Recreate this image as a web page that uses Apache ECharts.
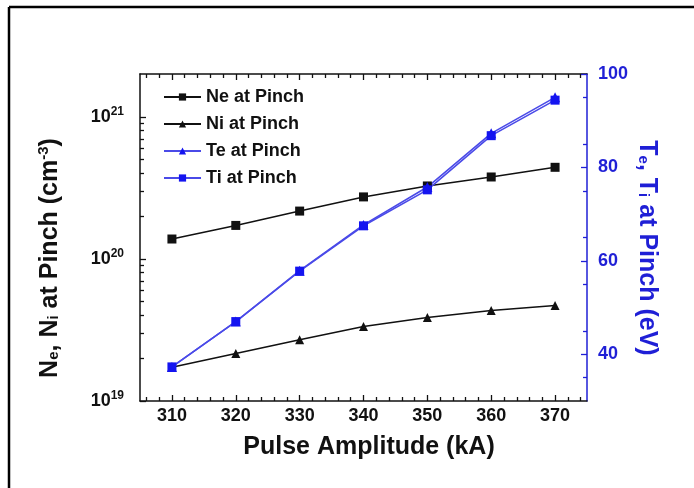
<!DOCTYPE html>
<html><head><meta charset="utf-8">
<script src="https://cdn.jsdelivr.net/npm/echarts@6/dist/echarts.min.js"></script>
<style>html,body{margin:0;padding:0;background:#fff}#c{width:694px;height:488px}</style>
</head><body><div id="c"></div>
<script>
// ---- data ----
const pulseAmplitude = [310, 320, 330, 340, 350, 360, 370];
const neAtPinch = [1.38e20, 1.72e20, 2.17e20, 2.73e20, 3.26e20, 3.77e20, 4.41e20];
const niAtPinch = [1.73e19, 2.16e19, 2.70e19, 3.34e19, 3.87e19, 4.33e19, 4.70e19];
const teAtPinch = [37.3, 47.0, 57.9, 67.7, 75.8, 87.3, 95.0];
const tiAtPinch = [37.3, 47.0, 57.8, 67.5, 75.2, 86.8, 94.4];
// ---- ticks ----
const xTickLabels = [310, 320, 330, 340, 350, 360, 370];
const xMinorTicks = [306, 308, 312, 314, 316, 318, 322, 324, 326, 328, 332, 334, 336, 338, 342, 344, 346, 348, 352, 354, 356, 358, 362, 364, 366, 368, 372, 374];
const leftTickLabels = [1e19, 1e20, 1e21];
const leftMinorTicks = [2e19, 3e19, 4e19, 5e19, 6e19, 7e19, 8e19, 9e19, 2e20, 3e20, 4e20, 5e20, 6e20, 7e20, 8e20, 9e20];
const rightTickLabels = [40, 60, 80, 100];
const rightMinorTicks = [35, 45, 55, 65, 75, 85, 95];
const seriesNames = ['Ne at Pinch', 'Ni at Pinch', 'Te at Pinch', 'Ti at Pinch'];

const FONT = "'Liberation Sans', Arial, sans-serif";
const BLACK = '#111111';
const BLUE = '#1f1fd6';
const BLUE_LINE = '#4a4ae8';

function xAxisDef(pos, major, showLine) {
  return {
    type: 'value', position: pos, min: 305, max: 375, splitLine: {show: false},
    axisLine: {show: showLine, onZero: false, lineStyle: {color: BLACK, width: 1.5}},
    axisTick: {show: true, inside: true, length: major ? 6 : 4, lineStyle: {color: BLACK, width: 1.3},
      customValues: major ? xTickLabels : xMinorTicks},
    axisLabel: (pos === 'bottom' && major) ? {show: true, customValues: xTickLabels, fontFamily: FONT, fontWeight: 'bold', fontSize: 18, color: BLACK, margin: 6} : {show: false}
  };
}

const chart = echarts.init(document.getElementById('c'), null, {renderer: 'canvas'});
chart.setOption({
  backgroundColor: '#ffffff',
  animation: false,
  grid: {left: 140, top: 74, right: 107, bottom: 87, containLabel: false},
  legend: {
    orient: 'vertical', left: 163, top: 88, itemWidth: 37, itemHeight: 9, itemGap: 9, padding: 0,
    data: seriesNames,
    textStyle: {fontFamily: FONT, fontWeight: 'bold', fontSize: 18, color: BLACK, lineHeight: 18, padding: [0, 0, 0, 0]}
  },
  xAxis: [
    xAxisDef('bottom', true, true),
    xAxisDef('bottom', false, false),
    xAxisDef('top', true, true),
    xAxisDef('top', false, false)
  ],
  yAxis: [
    {
      type: 'log', logBase: 10, position: 'left', min: 1e19, max: 2e21, splitLine: {show: false},
      axisLine: {show: true, onZero: false, lineStyle: {color: BLACK, width: 1.5}},
      axisTick: {show: true, inside: true, length: 6, customValues: leftTickLabels, lineStyle: {color: BLACK, width: 1.3}},
      axisLabel: {
        show: true, customValues: leftTickLabels, margin: 16,
        formatter: v => '{a|10}{b|' + Math.round(Math.log10(v)) + '}',
        rich: {
          a: {fontFamily: FONT, fontWeight: 'bold', fontSize: 18, color: BLACK},
          b: {fontFamily: FONT, fontWeight: 'bold', fontSize: 12, color: BLACK, padding: [0, 0, 11, 0]}
        }
      }
    },
    {
      type: 'log', logBase: 10, position: 'left', min: 1e19, max: 2e21, splitLine: {show: false},
      axisLine: {show: false, onZero: false},
      axisTick: {show: true, inside: true, length: 4, customValues: leftMinorTicks, lineStyle: {color: BLACK, width: 1.3}},
      axisLabel: {show: false}
    },
    {
      type: 'value', position: 'right', min: 30, max: 100, splitLine: {show: false},
      axisLine: {show: true, onZero: false, lineStyle: {color: BLUE, width: 1.5}},
      axisTick: {show: true, inside: true, length: 6, customValues: rightTickLabels, lineStyle: {color: BLUE, width: 1.3}},
      axisLabel: {show: true, customValues: rightTickLabels, margin: 11, fontFamily: FONT, fontWeight: 'bold', fontSize: 18, color: BLUE}
    },
    {
      type: 'value', position: 'right', min: 30, max: 100, splitLine: {show: false},
      axisLine: {show: false, onZero: false},
      axisTick: {show: true, inside: true, length: 4, customValues: rightMinorTicks, lineStyle: {color: BLUE, width: 1.3}},
      axisLabel: {show: false}
    }
  ],
  series: [
    {name: seriesNames[0], type: 'line', xAxisIndex: 0, yAxisIndex: 0,
     data: pulseAmplitude.map((x, i) => [x, neAtPinch[i]]),
     symbol: 'rect', symbolSize: 9, lineStyle: {color: BLACK, width: 1.5}, itemStyle: {color: BLACK}},
    {name: seriesNames[1], type: 'line', xAxisIndex: 0, yAxisIndex: 0,
     data: pulseAmplitude.map((x, i) => [x, niAtPinch[i]]),
     symbol: 'triangle', symbolSize: 9, lineStyle: {color: BLACK, width: 1.5}, itemStyle: {color: BLACK}},
    {name: seriesNames[2], type: 'line', xAxisIndex: 0, yAxisIndex: 2,
     data: pulseAmplitude.map((x, i) => [x, teAtPinch[i]]),
     symbol: 'triangle', symbolSize: 10, lineStyle: {color: BLUE_LINE, width: 1.6}, itemStyle: {color: '#1414f0'}},
    {name: seriesNames[3], type: 'line', xAxisIndex: 0, yAxisIndex: 2,
     data: pulseAmplitude.map((x, i) => [x, tiAtPinch[i]]),
     symbol: 'rect', symbolSize: 9, lineStyle: {color: BLUE_LINE, width: 1.6}, itemStyle: {color: '#1414f0'}}
  ],
  graphic: [
    {type: 'line', shape: {x1: 9, y1: 7, x2: 694, y2: 7}, style: {stroke: '#000', lineWidth: 2.5}, silent: true},
    {type: 'line', shape: {x1: 9, y1: 7, x2: 9, y2: 488}, style: {stroke: '#000', lineWidth: 2.5}, silent: true},
    {type: 'text', x: 50, y: 258, rotation: Math.PI / 2, silent: true,
     style: {text: 'N{s|e}, N{s|i} at Pinch (cm{p|-3})', align: 'center', verticalAlign: 'middle',
       font: "bold 25px 'Liberation Sans', Arial, sans-serif", fill: BLACK,
       rich: {
         s: {fontFamily: FONT, fontWeight: 'bold', fontSize: 15, fill: BLACK, padding: [8, 0, 0, 0]},
         p: {fontFamily: FONT, fontWeight: 'bold', fontSize: 15, fill: BLACK, padding: [0, 0, 12, 0]}
       }}},
    {type: 'text', x: 647, y: 248, rotation: -Math.PI / 2, silent: true,
     style: {text: 'T{s|e}, T{s|i} at Pinch (eV)', align: 'center', verticalAlign: 'middle',
       font: "bold 25px 'Liberation Sans', Arial, sans-serif", fill: BLUE,
       rich: {
         s: {fontFamily: FONT, fontWeight: 'bold', fontSize: 15, fill: BLUE, padding: [8, 0, 0, 0]}
       }}},
    {type: 'text', x: 369, y: 447, silent: true,
     style: {text: 'Pulse Amplitude (kA)', align: 'center', verticalAlign: 'middle',
       font: "bold 25px 'Liberation Sans', Arial, sans-serif", fill: BLACK}}
  ]
});
</script>
</body></html>
